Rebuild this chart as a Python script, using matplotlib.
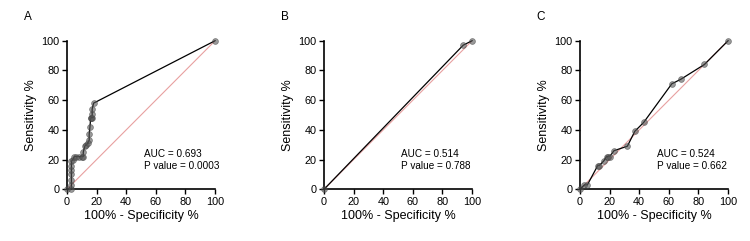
import matplotlib
matplotlib.use("Agg")
import matplotlib.pyplot as plt

plt.rcParams['font.family'] = ['Liberation Sans', 'DejaVu Sans']

# ROC curve points (100% - specificity, sensitivity)
fpr_a = [0, 3, 3, 3, 3, 3, 3, 3, 4, 5, 6, 8, 10, 11, 11, 12, 13, 14, 15, 15, 15.5, 16, 16, 17, 17, 17, 18, 100]
tpr_a = [0, 0, 3, 6, 10, 13, 16, 19, 20, 22, 22, 22, 22, 22, 25, 29, 30, 31, 33, 37, 42, 48, 48, 48, 51, 54, 58, 100]

fpr_b = [0, 94, 100]
tpr_b = [0, 97, 100]

fpr_c = [0, 3, 5, 12, 13, 16, 18, 19, 20, 23, 32, 37, 43, 62, 68, 84, 100]
tpr_c = [0, 3, 3, 16, 16, 19, 22, 22, 22, 26, 29, 39, 45, 71, 74, 84, 100]

panels = ['A', 'B', 'C']
auc = ['0.693', '0.514', '0.524']
pvals = ['0.0003', '0.788', '0.662']
ticks = [0, 20, 40, 60, 80, 100]

fig = plt.figure(figsize=(7.5, 2.41), dpi=100)
lefts = [0.0893, 0.432, 0.7733]
data = [(fpr_a, tpr_a), (fpr_b, tpr_b), (fpr_c, tpr_c)]

for i in range(3):
    ax = fig.add_axes([lefts[i], 0.2145, 0.1975, 0.6166])
    x, y = data[i]
    ax.plot([0, 100], [0, 100], color='#e8a0a0', lw=0.8, zorder=1)
    ax.plot(x, y, color='black', lw=0.9, zorder=2, clip_on=False)
    ax.plot(x, y, 'o', ms=4.2, mfc='#555555', mec='#404040', mew=0.5,
            alpha=0.6, zorder=3, clip_on=False, ls='none')
    ax.set_xlim(0, 100)
    ax.set_ylim(0, 100)
    ax.set_xticks(ticks)
    ax.set_yticks(ticks)
    for s in ['top', 'right']:
        ax.spines[s].set_visible(False)
    for s in ['left', 'bottom']:
        ax.spines[s].set_linewidth(1.2)
    ax.tick_params(labelsize=7.8, length=3.5, width=1, pad=2)
    ax.set_xlabel('100% - Specificity %', fontsize=9, labelpad=2)
    ax.set_ylabel('Sensitivity %', fontsize=9, labelpad=3)
    ax.text(52, 23.6, 'AUC = ' + auc[i], fontsize=7.2, va='center')
    ax.text(52, 15.5, 'P value = ' + pvals[i], fontsize=7.2, va='center')
    fig.text(lefts[i] - 0.058, 0.93, panels[i], fontsize=8.5, va='center')

fig.savefig('out.png', dpi=100)
